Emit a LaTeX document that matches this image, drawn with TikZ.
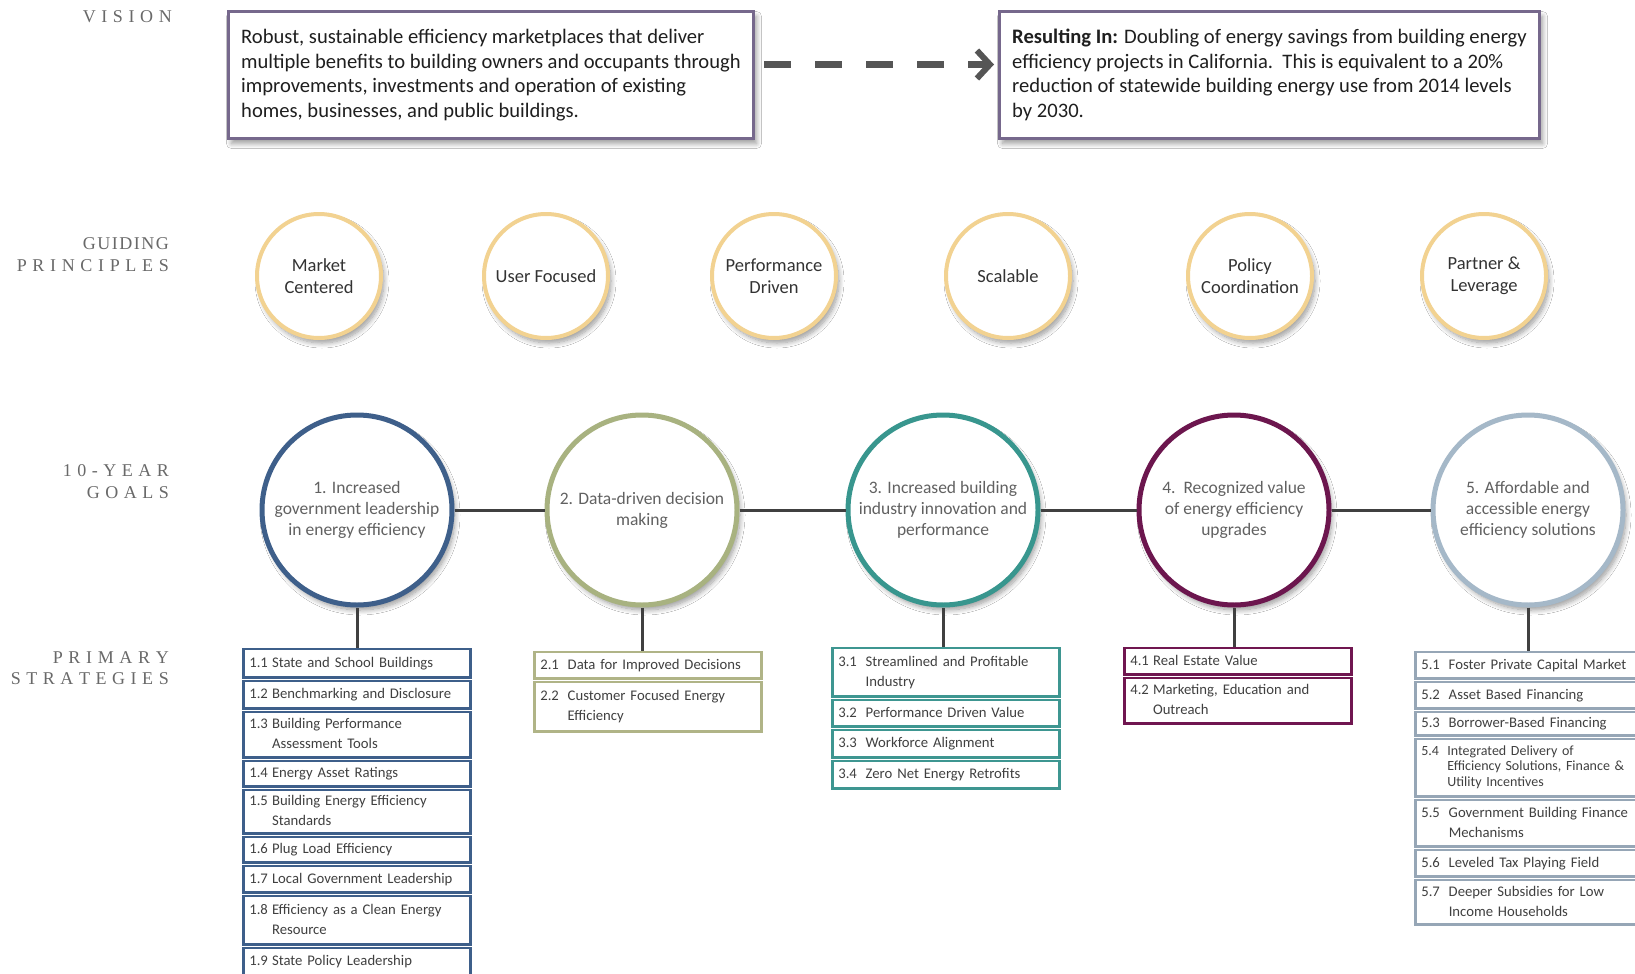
\documentclass[tikz,border=0pt]{standalone}
\usepackage{fontspec}
\setmainfont{Carlito}
\newfontfamily\labfont{Liberation Serif}
\usetikzlibrary{shadows,shadows.blur,arrows.meta}
\definecolor{visborder}{RGB}{118,104,140}
\definecolor{princborder}{RGB}{242,210,145}
\definecolor{gA}{RGB}{62,95,138}
\definecolor{gB}{RGB}{168,178,128}
\definecolor{gC}{RGB}{56,150,142}
\definecolor{gD}{RGB}{108,22,78}
\definecolor{gE}{RGB}{165,184,200}
\definecolor{sA}{RGB}{62,95,138}
\definecolor{sB}{RGB}{176,180,135}
\definecolor{sC}{RGB}{62,150,145}
\definecolor{sD}{RGB}{112,22,80}
\definecolor{sE}{RGB}{150,166,182}
\definecolor{linkgray}{RGB}{64,64,64}
\definecolor{arrowgray}{RGB}{85,85,85}
\definecolor{labgray}{RGB}{105,105,105}
\newcommand\spr[2]{\hbox to #1pt{#2}}
\newcommand\hg[3][0.28em]{\noindent\begin{tabular}[c]{@{}l@{\hspace{#1}}l@{}}#2&#3\end{tabular}}
\begin{document}
\begin{tikzpicture}[x=1pt,y=-1pt]
\tikzset{
 lab/.style={anchor=east, inner sep=0pt, font=\labfont\fontsize{18}{18}\selectfont, text=labgray},
 shad/.style={blur shadow={shadow xshift=3pt, shadow yshift=-5pt, shadow blur steps=10, shadow blur radius=5pt, shadow opacity=40}},
 topbox/.style={draw=visborder, line width=3pt, fill=white, shad, anchor=north west, minimum height=127, inner xsep=6pt, align=left, font=\fontsize{20.6}{24.7}\selectfont, text=black!88},
 princ/.style={circle, draw=princborder, line width=4pt, fill=white, shad, minimum size=124, inner sep=0pt, align=center, font=\fontsize{18.5}{22}\selectfont, text=black!80},
 goal/.style={circle, draw=#1, line width=5pt, fill=white, shad, minimum size=190, inner sep=0pt, align=center, font=\fontsize{17.5}{21}\selectfont, text=black!62},
 srow/.style={draw=#1, line width=2.6pt, fill=white, anchor=north west, minimum width=227, text width=215, inner xsep=6pt, inner ysep=0pt, align=left, font=\fontsize{14.7}{20}\selectfont, text=black!75},
 link/.style={draw=linkgray, line width=3pt},
}
\useasboundingbox (0,0) rectangle (1635,974);
\fill[white] (0,0) rectangle (1635,974);

% left labels
\node[lab] (lvis) at (172,17) {\spr{89}{V\hfill I\hfill S\hfill I\hfill O\hfill N}};
\node[lab] (lgp1) at (169,244) {\spr{86}{G\hfill U\hfill I\hfill D\hfill I\hfill N\hfill G}};
\node[lab] (lgp2) at (169,266) {\spr{152}{P\hfill R\hfill I\hfill N\hfill C\hfill I\hfill P\hfill L\hfill E\hfill S}};
\node[lab] (lyg1) at (169,471) {\spr{106}{1\hfill 0\hfill -\hfill Y\hfill E\hfill A\hfill R}};
\node[lab] (lyg2) at (169,493) {\spr{82}{G\hfill O\hfill A\hfill L\hfill S}};
\node[lab] (lps1) at (169,658) {\spr{116}{P\hfill R\hfill I\hfill M\hfill A\hfill R\hfill Y}};
\node[lab] (lps2) at (169,679) {\spr{158}{S\hfill T\hfill R\hfill A\hfill T\hfill E\hfill G\hfill I\hfill E\hfill S}};

% vision boxes
\node[topbox, minimum width=525] (vis) at (227,10) {Robust, sustainable efficiency marketplaces that deliver\\multiple benefits to building owners and occupants through\\improvements, investments and operation of existing\\homes, businesses, and public buildings.};
\node[topbox, minimum width=540] (res) at (998,10) {\textbf{Resulting In:} Doubling of energy savings from building energy\\efficiency projects in California.\ \ This is equivalent to a 20\%\\reduction of statewide building energy use from 2014 levels\\by 2030.};
\draw[draw=arrowgray, line width=7pt, dash pattern=on 27pt off 24pt, shorten <=9pt, shorten >=4pt, -{Straight Barb[length=13pt,width=28pt,line width=6pt]}] ([yshift=10.5pt]vis.east) -- ([yshift=10.5pt]res.west);

% guiding principles
\node[princ] (p1) at (319,276) {Market\\Centered};
\node[princ] (p2) at (546,276) {User Focused};
\node[princ] (p3) at (774,276) {Performance\\Driven};
\node[princ] (p4) at (1008,276) {Scalable};
\node[princ] (p5) at (1250,276) {Policy\\Coordination};
\node[princ] (p6) at (1484,276) {Partner \&\\Leverage};

% goals
\node[goal=gA] (g1) at (357,510) {1. Increased\\government leadership\\in energy efficiency};
\node[goal=gB] (g2) at (642,510) {2. Data-driven decision\\making};
\node[goal=gC] (g3) at (943,510) {3. Increased building\\industry innovation and\\performance};
\node[goal=gD] (g4) at (1234,510) {4.\ \ Recognized value\\of energy efficiency\\upgrades};
\node[goal=gE] (g5) at (1528,510) {5. Affordable and\\accessible energy\\efficiency solutions};

% strategies 1
\node[srow=sA, minimum height=28.4] (s11) at (242,647.8) {\hg{1.1}{State and School Buildings}};
\node[srow=sA, minimum height=27.4] (s12) at (242,679.8) {\hg{1.2}{Benchmarking and Disclosure}};
\node[srow=sA, minimum height=45.4] (s13) at (242,710.8) {\hg{1.3}{Building Performance\\&Assessment Tools}};
\node[srow=sA, minimum height=25.4] (s14) at (242,759.8) {\hg{1.4}{Energy Asset Ratings}};
\node[srow=sA, minimum height=43.4] (s15) at (242,788.8) {\hg{1.5}{Building Energy Efficiency\\&Standards}};
\node[srow=sA, minimum height=25.4] (s16) at (242,835.8) {\hg{1.6}{Plug Load Efficiency}};
\node[srow=sA, minimum height=26.4] (s17) at (242,864.8) {\hg{1.7}{Local Government Leadership}};
\node[srow=sA, minimum height=48.4] (s18) at (242,894.8) {\hg{1.8}{Efficiency as a Clean Energy\\&Resource}};
\node[srow=sA, minimum height=27.4] (s19) at (242,946.8) {\hg{1.9}{State Policy Leadership}};

% strategies 2
\node[srow=sB, minimum height=26.4] (s21) at (533,650.8) {\hg[0.6em]{2.1}{Data for Improved Decisions}};
\node[srow=sB, minimum height=49.4] (s22) at (533,680.8) {\hg[0.6em]{2.2}{Customer Focused Energy\\&Efficiency}};

% strategies 3
\node[srow=sC, minimum height=48.4] (s31) at (831,646.8) {\hg[0.6em]{3.1}{Streamlined and Profitable\\&Industry}};
\node[srow=sC, minimum height=26.4] (s32) at (831,698.8) {\hg[0.6em]{3.2}{Performance Driven Value}};
\node[srow=sC, minimum height=27.4] (s33) at (831,728.8) {\hg[0.6em]{3.3}{Workforce Alignment}};
\node[srow=sC, minimum height=27.4] (s34) at (831,759.8) {\hg[0.6em]{3.4}{Zero Net Energy Retrofits}};

% strategies 4
\node[srow=sD, minimum height=26.4] (s41) at (1123,646.8) {\hg{4.1}{Real Estate Value}};
\node[srow=sD, minimum height=45.4] (s42) at (1123,676.8) {\hg{4.2}{Marketing, Education and\\&Outreach}};

% strategies 5
\node[srow=sE, minimum height=26.4] (s51) at (1414,650.8) {\hg[0.6em]{5.1}{Foster Private Capital Market}};
\node[srow=sE, minimum height=26.4] (s52) at (1414,680.8) {\hg[0.6em]{5.2}{Asset Based Financing}};
\node[srow=sE, minimum height=23.4] (s53) at (1414,710.8) {\hg[0.6em]{5.3}{Borrower-Based Financing}};
\node[srow=sE, minimum height=57.4, font=\fontsize{14}{15.6}\selectfont] (s54) at (1414,737.8) {\hg[0.6em]{5.4}{Integrated Delivery of\\&Efficiency Solutions, Finance \&\\&Utility Incentives}};
\node[srow=sE, minimum height=46.4] (s55) at (1414,798.8) {\hg[0.6em]{5.5}{Government Building Finance\\&Mechanisms}};
\node[srow=sE, minimum height=26.4] (s56) at (1414,848.8) {\hg[0.6em]{5.6}{Leveled Tax Playing Field}};
\node[srow=sE, minimum height=44.4] (s57) at (1414,878.8) {\hg[0.6em]{5.7}{Deeper Subsidies for Low\\&Income Households}};

% connectors
\draw[link] (g1) -- (g2);
\draw[link] (g2) -- (g3);
\draw[link] (g3) -- (g4);
\draw[link] (g4) -- (g5);
\draw[link] (g1.south) -- (g1.south |- s11.north);
\draw[link] (g2.south) -- (g2.south |- s21.north);
\draw[link] (g3.south) -- (g3.south |- s31.north);
\draw[link] (g4.south) -- (g4.south |- s41.north);
\draw[link] (g5.south) -- (g5.south |- s51.north);
\end{tikzpicture}
\end{document}
